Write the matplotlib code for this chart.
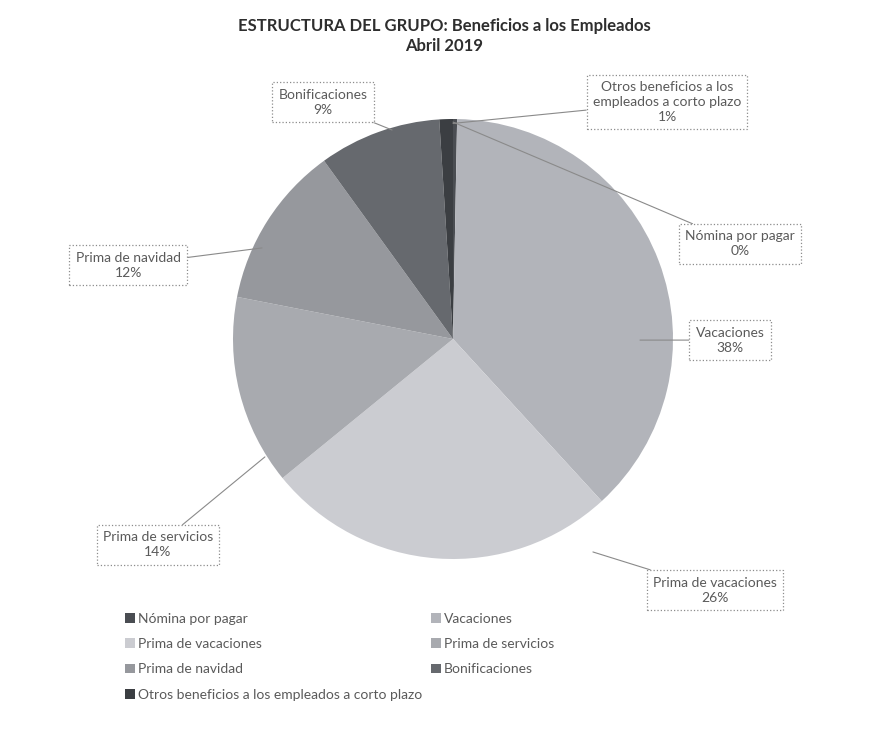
import matplotlib.pyplot as plt
from matplotlib.patches import Patch

# data
categorias = ['Nómina por pagar', 'Vacaciones', 'Prima de vacaciones',
              'Prima de servicios', 'Prima de navidad', 'Bonificaciones',
              'Otros beneficios a los empleados a corto plazo']
etiquetas = ['Nómina por pagar', 'Vacaciones', 'Prima de vacaciones',
             'Prima de servicios', 'Prima de navidad', 'Bonificaciones',
             'Otros beneficios a los\nempleados a corto plazo']
porcentajes = [0.3, 38, 26, 14, 12, 9, 1]
colores = ['#4a4d52', '#b2b4ba', '#cbccd1', '#a8aaaf', '#96989d', '#66696e', '#3b3e42']

# label boxes and leader anchors (data coords, pie radius = 1)
pos_texto = [(1.305, 0.432), (1.259, -0.005), (1.191, -1.141), (-1.341, -0.936),
             (-1.477, 0.336), (-0.591, 1.077), (0.973, 1.077)]
pos_ancla = [(0.0, 0.986), (0.85, -0.005), (0.636, -0.968), (-0.855, -0.536),
             (-0.868, 0.414), (-0.277, 0.95), (0.0, 0.98)]

plt.rcParams['font.family'] = ['Lato', 'DejaVu Sans']

fig = plt.figure(figsize=(8.89, 7.31), dpi=100)
cx, cy, r = 453, 339, 220
W, H = 889, 731
ax = fig.add_axes([(cx - r) / W, (H - cy - r) / H, 2 * r / W, 2 * r / H])

ax.pie(porcentajes, colors=colores, startangle=90, counterclock=False,
       wedgeprops=dict(linewidth=0))
ax.set_xlim(-1, 1)
ax.set_ylim(-1, 1)
ax.set_aspect('equal')

total = sum(porcentajes)
for i, et in enumerate(etiquetas):
    pct = round(porcentajes[i] / total * 100)
    ax.annotate(f'{et}\n{pct}%', xy=pos_ancla[i], xytext=pos_texto[i],
                ha='center', va='center', multialignment='center',
                fontsize=10, color='#5a5a5a',
                linespacing=1.3, annotation_clip=False,
                bbox=dict(boxstyle='square,pad=0.45', fc='white', ec='#8c8c8c',
                          ls=':', lw=0.9),
                arrowprops=dict(arrowstyle='-', color='#8a8a8a', lw=0.8,
                                shrinkA=0, shrinkB=0))

fig.text(0.5, 1 - 36 / H, 'ESTRUCTURA DEL GRUPO: Beneficios a los Empleados\nAbril 2019',
         ha='center', va='center', fontsize=12, fontweight='bold', color='#2e2e2e',
         linespacing=1.25)

handles = [Patch(facecolor=c, edgecolor='none') for c in colores]
orden = [0, 2, 4, 6, 1, 3, 5]
fig.legend([handles[i] for i in orden], [categorias[i] for i in orden],
           ncol=2, loc='upper left', bbox_to_anchor=(125 / W, 1 - 613 / H),
           frameon=False, fontsize=10, labelcolor='#5a5a5a',
           handlelength=0.7, handleheight=0.7, handletextpad=0.25,
           labelspacing=0.95, columnspacing=0.6, borderpad=0, borderaxespad=0)

fig.savefig('out.png', dpi=100, facecolor='white')
